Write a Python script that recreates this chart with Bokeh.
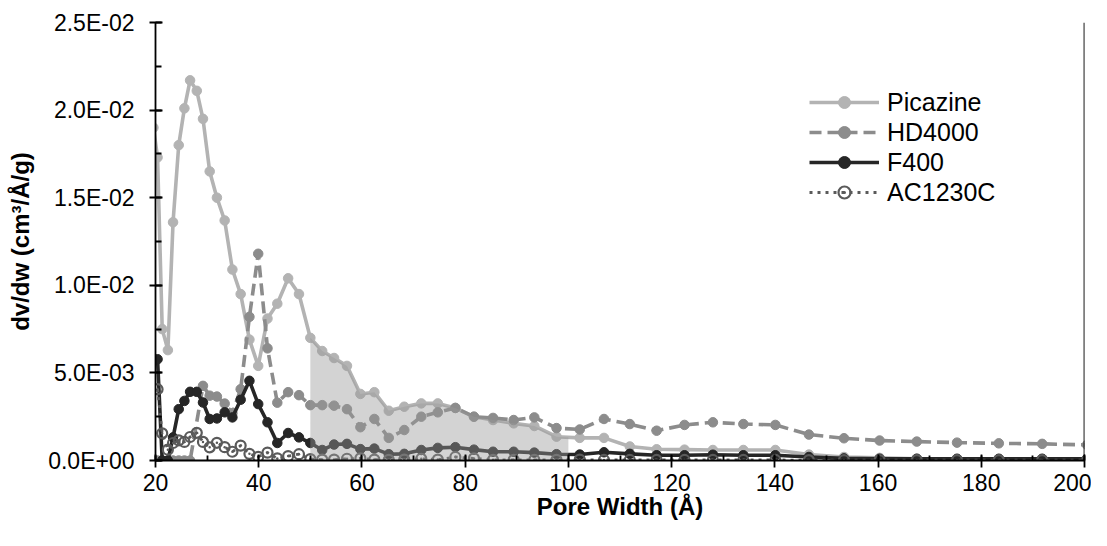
import math
import numpy as np
from bokeh.plotting import figure
from bokeh.models import (Range1d, FixedTicker, CustomJSTickFormatter, Legend,
                          LegendItem, Span, ColumnDataSource)
from bokeh.embed import file_html
from bokeh.resources import INLINE

# ---------------- data (dv/dw in units of 1e-3 cm3/Å/g) ----------------
pore_width = [19.6, 20.4, 21.3, 22.4, 23.4, 24.5, 25.6, 26.7, 28.0, 29.2, 30.5,
              31.9, 33.4, 34.9, 36.5, 38.2, 39.9, 41.7, 43.6, 45.7, 47.8,
              50.0, 52.3, 54.6, 57.1, 59.7, 62.4, 65.2, 68.2, 71.5, 74.7,
              78.1, 81.7, 85.4, 89.4, 93.4, 97.7, 102.2, 106.9, 111.9, 117.1,
              122.5, 128.0, 133.9, 140.1, 146.6, 153.4, 160.3, 167.5, 175.3,
              183.4, 191.8, 200.5]
nan = float("nan")
picazine = [19.0, 17.3, 7.5, 6.3, 13.6, 18.0, 20.1, 21.7, 21.1, 19.5, 16.5,
            15.0, 13.7, 10.9, 9.5, 6.9, 5.4, 8.1, 8.95, 10.4, 9.5,
            7.0, 6.25, 5.85, 5.4, 3.8, 3.9, 2.84, 3.07, 3.26, 3.26,
            3.0, 2.5, 2.31, 2.12, 1.97, 1.36, 1.29, 1.29, 0.8, 0.64,
            0.62, 0.6, 0.6, 0.6, 0.34, 0.2, 0.15, 0.1, 0.08,
            0.08, 0.08, 0.08]
hd4000 = [nan, 0.0, 0.0, 0.0, 0.0, 0.0, 0.0, 0.0, nan, 4.26, 3.7,
          3.65, 3.25, 2.7, 4.07, 8.2, 11.8, 6.4, 3.3, 3.9, 3.73,
          3.16, 3.16, 3.13, 2.93, 1.9, 2.37, 1.29, 1.74, 2.5, 2.75,
          3.0, 2.5, 2.43, 2.31, 2.46, 1.85, 1.77, 2.37, 2.08, 1.7,
          2.03, 2.18, 2.08, 2.03, 1.48, 1.27, 1.14, 1.08, 1.02,
          0.98, 0.95, 0.89]
f400 = [nan, 5.78, 0.0, 0.0, 1.32, 2.93, 3.4, 3.92, 3.92, 3.31, 2.37,
        2.4, 2.75, 2.46, 3.47, 4.55, 3.22, 2.18, 1.0, 1.57, 1.32,
        1.0, 0.6, 0.91, 0.95, 0.65, 0.68, 0.36, 0.38, 0.6, 0.72,
        0.76, 0.62, 0.5, 0.5, 0.45, 0.36, 0.34, 0.47, 0.38, 0.3,
        0.3, 0.33, 0.3, 0.3, 0.2, 0.12, 0.1, 0.1, 0.1,
        0.1, 0.1, 0.1]
ac1230c = [nan, 4.07, 1.55, 0.62, 1.0, 1.15, 1.06, 1.34, 1.58, 1.06, 0.75,
           1.01, 0.76, 0.5, 0.85, 0.38, 0.21, 0.45, 0.12, 0.25, 0.36,
           0.08, 0.05, 0.05, 0.1, 0.12, 0.05, 0.04, 0.05, 0.1, 0.05,
           0.2, 0.12, 0.04, 0.04, 0.04, 0.04, 0.05, 0.03, 0.03, 0.03,
           0.03, 0.03, 0.03, 0.03, 0.02, 0.02, 0.02, 0.02, 0.02,
           0.02, 0.02, 0.02]
series_names = ["Picazine", "HD4000", "F400", "AC1230C"]
shade_range = [50.0, 100.0]
y_tick_values = [0.0, 0.005, 0.01, 0.015, 0.02, 0.025]
x_tick_values = [20, 40, 60, 80, 100, 120, 140, 160, 180, 200]

SCALE = 1e-3


def src(vals):
    xs, ys = [], []
    for w, v in zip(pore_width, vals):
        if not math.isnan(v):
            xs.append(w)
            ys.append(v * SCALE)
    return ColumnDataSource(dict(x=xs, y=ys))


FONT = "Liberation Sans"

p = figure(width=1091, height=530, output_backend="svg", toolbar_location=None,
           x_range=Range1d(20, 200), y_range=Range1d(0, 0.025),
           min_border_left=155, min_border_right=7, min_border_top=22,
           min_border_bottom=70)
p.xgrid.visible = False
p.ygrid.visible = False
p.outline_line_color = None
p.background_fill_color = "white"
p.border_fill_color = "white"

s_pic = src(picazine)
s_hd = src(hd4000)
s_f = src(f400)
s_ac = src(ac1230c)

c_pic = "#b3b3b3"
c_hd = "#8c8c8c"
c_f = "#262626"
c_ac = "#5a5a5a"

l_pic = p.line("x", "y", source=s_pic, line_color=c_pic, line_width=3.6)
m_pic = p.scatter("x", "y", source=s_pic, marker="circle", size=9.5,
                  fill_color=c_pic, line_color=c_pic)
l_hd = p.line("x", "y", source=s_hd, line_color=c_hd, line_width=3.6,
              line_dash="12 6")
m_hd = p.scatter("x", "y", source=s_hd, marker="circle", size=9.5,
                 fill_color=c_hd, line_color=c_hd)
l_f = p.line("x", "y", source=s_f, line_color=c_f, line_width=3.6)
m_f = p.scatter("x", "y", source=s_f, marker="circle", size=9.5,
                fill_color=c_f, line_color=c_f)
l_ac = p.line("x", "y", source=s_ac, line_color=c_ac, line_width=2.8,
              line_dash="3 5")
m_ac = p.scatter("x", "y", source=s_ac, marker="circle_dot", size=10,
                 fill_color=None, line_color=c_ac, line_width=2.2)

# shaded region under Picazine between 50 and 100 (semi-transparent overlay)
pic_x = list(pore_width)
pic_y = [v * SCALE for v in picazine]
fx = ([shade_range[0]]
      + [w for w in pore_width if shade_range[0] < w < shade_range[1]]
      + [shade_range[1]])
ftop = list(np.interp(fx, pic_x, pic_y))
p.varea(x=fx, y1=[0] * len(fx), y2=ftop, fill_color="#999999", fill_alpha=0.43)

# right border line
p.add_layout(Span(location=200, dimension="height", line_color="black",
                  line_width=1.8))

# axes
xa = p.xaxis[0]
xa.ticker = FixedTicker(ticks=x_tick_values, minor_ticks=list(range(20, 201, 10)))
xa.axis_line_color = "black"
xa.axis_line_width = 1.8
xa.major_tick_line_color = "black"
xa.major_tick_line_width = 1.8
xa.major_tick_in = 6
xa.major_tick_out = 7
xa.minor_tick_line_color = "black"
xa.minor_tick_line_width = 1.8
xa.minor_tick_in = 5
xa.minor_tick_out = 0
xa.major_label_text_font = FONT
xa.major_label_text_font_size = "23px"
xa.major_label_text_color = "black"
xa.major_label_standoff = 6
xa.axis_label = "Pore Width (Å)"
xa.axis_label_text_font = FONT
xa.axis_label_text_font_style = "bold"
xa.axis_label_text_font_size = "24px"
xa.axis_label_text_color = "black"
xa.axis_label_standoff = -1

ya = p.yaxis[0]
ya.ticker = FixedTicker(ticks=y_tick_values,
                        minor_ticks=[i * 0.0025 for i in range(11)])
ya.formatter = CustomJSTickFormatter(code="""
    var s = tick.toExponential(1);
    var parts = s.split('e');
    var e = parseInt(parts[1]);
    var sign = e < 0 ? '-' : '+';
    var a = Math.abs(e);
    return parts[0] + 'E' + sign + (a < 10 ? '0' : '') + a;
""")
ya.axis_line_color = "black"
ya.axis_line_width = 1.8
ya.major_tick_line_color = "black"
ya.major_tick_line_width = 1.8
ya.major_tick_in = 7
ya.major_tick_out = 6
ya.minor_tick_line_color = "black"
ya.minor_tick_line_width = 1.8
ya.minor_tick_in = 6
ya.minor_tick_out = 0
ya.major_label_text_font = FONT
ya.major_label_text_font_size = "23px"
ya.major_label_text_color = "black"
ya.major_label_standoff = 15
ya.axis_label = "dv/dw (cm³/Å/g)"
ya.axis_label_text_font = FONT
ya.axis_label_text_font_style = "bold"
ya.axis_label_text_font_size = "24px"
ya.axis_label_text_color = "black"
ya.axis_label_standoff = 11

legend = Legend(items=[
    LegendItem(label=series_names[0], renderers=[l_pic, m_pic]),
    LegendItem(label=series_names[1], renderers=[l_hd, m_hd]),
    LegendItem(label=series_names[2], renderers=[l_f, m_f]),
    LegendItem(label=series_names[3], renderers=[l_ac, m_ac]),
], location=(654, 253), glyph_width=70, glyph_height=30, label_height=30,
    label_standoff=8, spacing=0, padding=0, margin=0,
    border_line_color=None, background_fill_alpha=0,
    label_text_font=FONT, label_text_font_size="25px",
    label_text_color="black")
p.add_layout(legend)

open("out.html", "w").write(file_html(p, INLINE))
